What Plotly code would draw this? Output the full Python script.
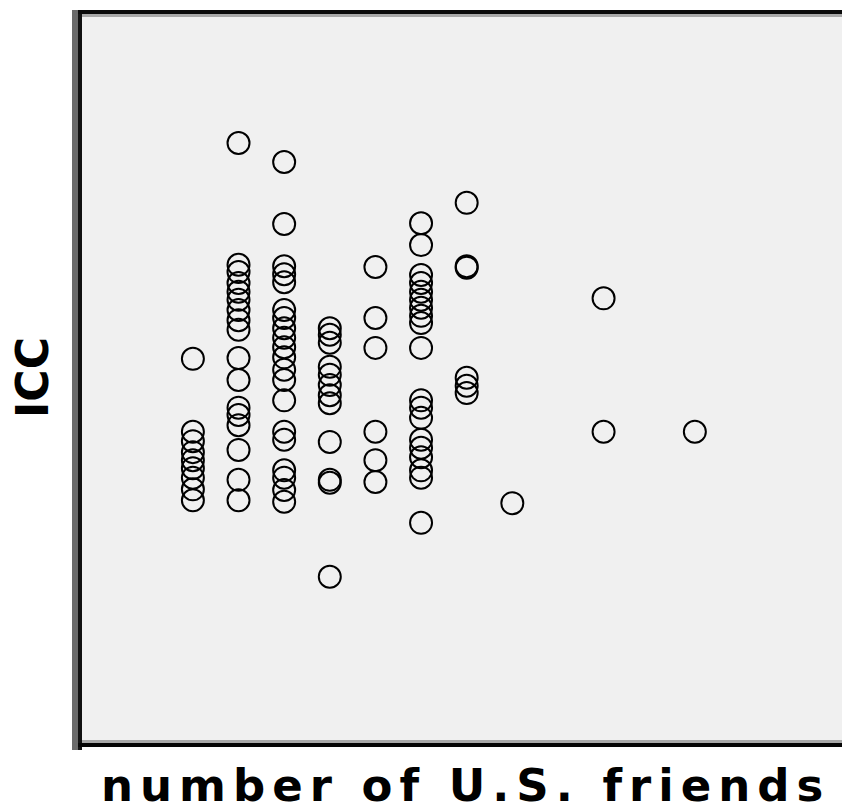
import plotly.graph_objects as go

# number of U.S. friends (x) and ICC score (y) (arbitrary 0-100 ICC scale)
friends_0 = [0] * 9
icc_0 = [52.7, 42.7, 41.4, 39.9, 38.8, 37.7, 36.4, 34.8, 33.3]

friends_1 = [1] * 17
icc_1 = [82.3, 65.6, 64.6, 63.1, 61.9, 60.8, 59.4, 58.0, 56.7, 52.8, 49.8, 46.0, 45.0, 43.6, 40.2, 36.1, 33.3]

friends_2 = [2] * 20
icc_2 = [79.7, 71.2, 65.4, 64.3, 63.2, 59.4, 58.3, 56.9, 55.6, 54.3, 52.9, 51.2, 49.8, 47.0, 42.7, 41.6, 37.4, 36.4, 34.7, 33.1]

friends_3 = [3] * 12
icc_3 = [56.9, 56.0, 54.9, 51.6, 50.5, 49.1, 47.7, 46.6, 41.3, 36.1, 35.7, 22.8]

friends_4 = [4] * 6
icc_4 = [65.3, 58.3, 54.2, 42.7, 38.8, 35.8]

friends_5 = [5] * 19
icc_5 = [71.3, 68.3, 64.2, 63.1, 61.9, 60.8, 59.7, 58.6, 57.6, 54.2, 47.0, 46.0, 44.6, 41.6, 40.5, 39.2, 37.4, 36.4, 30.2]

friends_6 = [6] * 6
icc_6 = [74.1, 65.4, 65.2, 50.1, 49.0, 48.0]

friends_other = [7, 9, 9, 11]
icc_other = [32.9, 61.0, 42.7, 42.7]

x_vals = friends_0 + friends_1 + friends_2 + friends_3 + friends_4 + friends_5 + friends_6 + friends_other
y_vals = icc_0 + icc_1 + icc_2 + icc_3 + icc_4 + icc_5 + icc_6 + icc_other

# the page body adds an 8px margin; size the figure to fit the window
OFF = 8
W, H = 850 - OFF, 806 - OFF
L = 82 - OFF
T = 14 - OFF
B = H - (743 - OFF)
R = 0
pw, ph = W - L - R, H - T - B

fig = go.Figure()
fig.add_trace(go.Scatter(
    x=x_vals, y=y_vals, mode="markers",
    marker=dict(symbol="circle-open", size=22, color="black",
                line=dict(width=2, color="black")),
    hoverinfo="skip", showlegend=False,
))

def px_x(p):
    return p / pw

def px_y(p):
    return p / ph

shapes = [
    # left border: gray then black
    dict(type="rect", xref="paper", yref="paper", x0=px_x(-10), x1=px_x(-4),
         y0=px_y(-7), y1=1 + px_y(4), fillcolor="#6a6a6a", line_width=0),
    dict(type="rect", xref="paper", yref="paper", x0=px_x(-4), x1=0,
         y0=px_y(-7), y1=1 + px_y(4), fillcolor="#111111", line_width=0),
    # top border: black then gray
    dict(type="rect", xref="paper", yref="paper", x0=px_x(-4), x1=1,
         y0=1, y1=1 + px_y(4), fillcolor="#0a0a0a", line_width=0),
    dict(type="rect", xref="paper", yref="paper", x0=0, x1=1,
         y0=1 - px_y(3), y1=1, fillcolor="#a8a8a8", line_width=0),
    # bottom border: gray then black
    dict(type="rect", xref="paper", yref="paper", x0=0, x1=1,
         y0=0, y1=px_y(3), fillcolor="#a8a8a8", line_width=0),
    dict(type="rect", xref="paper", yref="paper", x0=px_x(-4), x1=1,
         y0=px_y(-4), y1=0, fillcolor="#050505", line_width=0),
]

xt_cx, xt_cy = 465 - OFF, 785 - OFF
yt_cx, yt_cy = 32 - OFF, 378 - OFF

fig.update_layout(
    width=W, height=H,
    margin=dict(l=L, r=R, t=T, b=B),
    paper_bgcolor="white",
    plot_bgcolor="#f0f0f0",
    shapes=shapes,
    xaxis=dict(range=[-2.43, 14.4], showgrid=False, zeroline=False,
               showticklabels=False, ticks="", showline=False),
    yaxis=dict(range=[0, 100], showgrid=False, zeroline=False,
               showticklabels=False, ticks="", showline=False),
    annotations=[
        dict(text='<span style="letter-spacing:7px"><b>number of U.S. friends</b></span>',
             xref="paper", yref="paper",
             x=px_x(xt_cx - L), y=-px_y(xt_cy - (H - B)),
             xanchor="center", yanchor="middle", showarrow=False,
             font=dict(family="DejaVu Sans", size=45, color="black")),
        dict(text="<b>ICC</b>", xref="paper", yref="paper",
             x=-px_x(L - yt_cx), y=1 - px_y(yt_cy - T),
             xanchor="center", yanchor="middle", showarrow=False, textangle=-90,
             font=dict(family="DejaVu Sans", size=44, color="black")),
    ],
)

fig.write_html("out.html")
